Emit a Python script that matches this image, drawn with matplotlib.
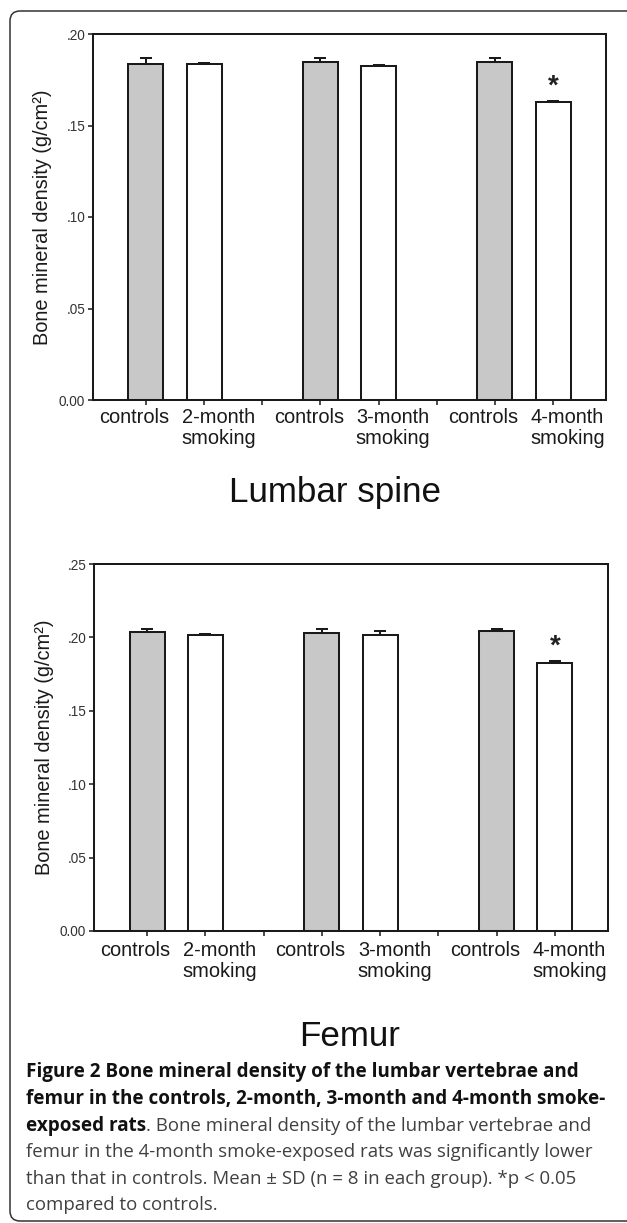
# -*- coding: utf-8 -*-
"""
Bone mineral density bar charts (lumbar spine and femur) with figure caption
"""
import matplotlib
matplotlib.use('Agg')
import matplotlib.pyplot as plt
import matplotlib.patches as patches
import matplotlib.transforms as mtransforms
import numpy as np

plt.rcParams['font.family'] = ['Liberation Sans', 'DejaVu Sans']

W, H = 627, 1223
DPI = 100

# ---- data ----
tick_labels = ['controls', '2-month\nsmoking', '', 'controls', '3-month\nsmoking', '',
               'controls', '4-month\nsmoking']
control_pos = [0, 3, 6]
smoking_pos = [1, 4, 7]

lumbar_controls = [0.1838, 0.1847, 0.1847]
lumbar_controls_sd = [0.0030, 0.0020, 0.0020]
lumbar_smoking = [0.1838, 0.1827, 0.1630]
lumbar_smoking_sd = [0.0005, 0.0005, 0.0005]
lumbar_yticks = [0.0, 0.05, 0.10, 0.15, 0.20]
lumbar_ytick_labels = ['0.00', '.05', '.10', '.15', '.20']

femur_controls = [0.2039, 0.2028, 0.2044]
femur_controls_sd = [0.0016, 0.0027, 0.0010]
femur_smoking = [0.2016, 0.2016, 0.1828]
femur_smoking_sd = [0.0010, 0.0025, 0.0010]
femur_yticks = [0.0, 0.05, 0.10, 0.15, 0.20, 0.25]
femur_ytick_labels = ['0.00', '.05', '.10', '.15', '.20', '.25']

significant = [False, False, True]

caption_bold = ['Figure 2 Bone mineral density of the lumbar vertebrae and',
                'femur in the controls, 2-month, 3-month and 4-month smoke-',
                'exposed rats']
caption_rest = ['. Bone mineral density of the lumbar vertebrae and',
                'femur in the 4-month smoke-exposed rats was significantly lower',
                'than that in controls. Mean \u00b1 SD (n = 8 in each group). *p < 0.05',
                'compared to controls.']

EDGE = '#1a1a1a'
LW = 1.45


def px_rect(x0, y0, x1, y1):
    return [x0 / W, 1 - y1 / H, (x1 - x0) / W, (y1 - y0) / H]


def draw_panel(fig, rect, ctrl, ctrl_sd, smk, smk_sd, yticks, ylabels, ymax,
               label_drop, ylabel_x):
    ax = fig.add_axes(rect)
    ax.bar(control_pos, ctrl, width=0.6, color='#c8c8c8', edgecolor=EDGE,
           linewidth=LW, zorder=2)
    ax.bar(smoking_pos, smk, width=0.6, color='white', edgecolor=EDGE,
           linewidth=LW, zorder=2)
    ax.errorbar(control_pos, ctrl, yerr=[np.zeros(3), ctrl_sd], fmt='none',
                ecolor=EDGE, elinewidth=LW, capsize=4.3, capthick=LW, zorder=3)
    ax.errorbar(smoking_pos, smk, yerr=[np.zeros(3), smk_sd], fmt='none',
                ecolor=EDGE, elinewidth=LW, capsize=4.3, capthick=LW, zorder=3)

    for i, sig in enumerate(significant):
        if sig:
            ax.annotate('*', (smoking_pos[i], smk[i] + smk_sd[i]),
                        xytext=(0, 1), textcoords='offset points',
                        ha='center', va='bottom', fontsize=20,
                        fontweight='bold', color='#222222')

    ax.set_xlim(-0.91, 7.91)
    ax.set_ylim(0, ymax)
    ax.set_yticks(yticks)
    ax.set_yticklabels(ylabels, fontsize=9.8, color='#333333')
    ax.set_xticks(range(len(tick_labels)))
    ax.set_xticklabels([])
    ax.tick_params(axis='both', direction='out', length=3.6, width=1.1,
                   color=EDGE, pad=2)
    for s in ax.spines.values():
        s.set_linewidth(LW)
        s.set_color(EDGE)

    # category labels, offset from the ticks like the original
    base = ax.get_xaxis_transform()
    for i, lab in enumerate(tick_labels):
        if not lab:
            continue
        dx = -0.2 if lab == 'controls' else 0.25
        off = mtransforms.ScaledTranslation(0, -label_drop / DPI, fig.dpi_scale_trans)
        ax.text(i + dx, 0, lab, transform=base + off, ha='center', va='top',
                fontsize=14.4, color='#1a1a1a', linespacing=1.15)

    fig.text(ylabel_x / W, rect[1] + rect[3] / 2, 'Bone mineral density (g/cm\u00b2)',
             rotation=90, ha='center', va='center', fontsize=14.4, color='#1a1a1a')
    return ax


fig = plt.figure(figsize=(W / DPI, H / DPI), dpi=DPI)

# rounded outer frame (right side runs off the image)
frame = patches.FancyBboxPatch((10 / DPI, (H - 1221) / DPI), (640 - 10) / DPI,
                               (1221 - 11) / DPI,
                               boxstyle='round,pad=0,rounding_size=0.1',
                               transform=fig.dpi_scale_trans, facecolor='none',
                               edgecolor='#333333', linewidth=1.1)
fig.patches.append(frame)

draw_panel(fig, px_rect(93, 34, 606, 400), lumbar_controls, lumbar_controls_sd,
           lumbar_smoking, lumbar_smoking_sd, lumbar_yticks, lumbar_ytick_labels,
           0.20, 8, 43)
fig.text(335 / W, 1 - 502 / H, 'Lumbar spine', ha='center', va='baseline',
         fontsize=25.2, color='#111111')

draw_panel(fig, px_rect(94, 564, 608, 931), femur_controls, femur_controls_sd,
           femur_smoking, femur_smoking_sd, femur_yticks, femur_ytick_labels,
           0.25, 10, 45)
fig.text(350 / W, 1 - 1046 / H, 'Femur', ha='center', va='baseline',
         fontsize=25.2, color='#111111')

# caption
cap_font = ['Open Sans', 'DejaVu Sans']
baselines = [1077, 1104, 1131, 1157, 1184, 1210]
renderer = fig.canvas.get_renderer()
for k, line in enumerate(caption_bold):
    t = fig.text(26 / W, 1 - baselines[k] / H, line, ha='left', va='baseline',
                 fontsize=13.6, fontweight='bold', family=cap_font, color='#111111')
    if k == 2:
        bb = t.get_window_extent(renderer=renderer)
        fig.text(bb.x1 / W, 1 - baselines[k] / H, caption_rest[0], ha='left',
                 va='baseline', fontsize=13.4, family=cap_font, color='#404040')
for k, line in enumerate(caption_rest[1:]):
    fig.text(26 / W, 1 - baselines[k + 3] / H, line, ha='left', va='baseline',
             fontsize=13.4, family=cap_font, color='#404040')

fig.savefig('out.png', dpi=DPI, facecolor='white')
plt.close(fig)
